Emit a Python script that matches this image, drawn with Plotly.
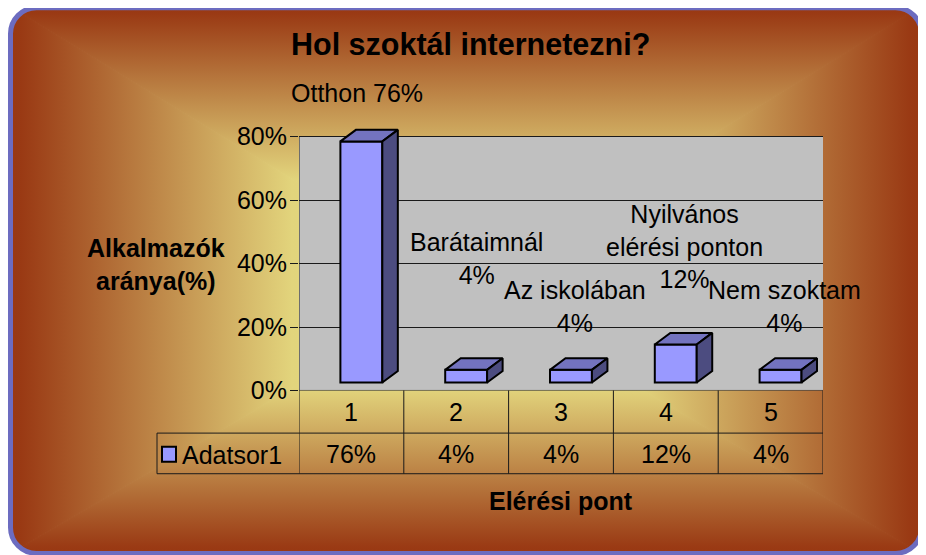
import base64
import plotly.graph_objects as go

# ---------------- data ----------------
CATEGORIES = [1, 2, 3, 4, 5]
VALUES = [0.76, 0.04, 0.04, 0.12, 0.04]
LABEL_NAMES = ["Otthon", "Barátaimnál", "Az iskolában", "Nyilvános<br>elérési ponton", "Nem szoktam"]
LABEL_SEPS = [" ", "<br>", "<br>", "<br>", "<br>"]
SERIES_NAME = "Adatsor1"
Y_TICKS = [0, 0.2, 0.4, 0.6, 0.8]
Y_TICK_TEXT = ["0%", "20%", "40%", "60%", "80%"]
TITLE = "Hol szoktál internetezni?"
Y_TITLE = "Alkalmazók<br>aránya(%)"
X_TITLE = "Elérési pont"

# ---------------- layout constants ----------------
OX, OY = 8, 8             # page body margin offset of the figure
W, H = 918, 563           # figure size
SY = 571 / 555            # picture-to-page vertical factor
FONT = "Liberation Sans, Arial, sans-serif"
FRONT, TOP, SIDE = "#9999FF", "#7373BF", "#4C4C80"
Y0_PIX, PIX_PER_UNIT, Y_MAX = 389, 316.25, 0.85


def px(x):
    return (x - OX) / W


def py(y):
    return 1 - (y * SY - OY) / H


def ay(v):
    """axis value -> paper y"""
    return py(Y0_PIX - v * PIX_PER_UNIT)


X_DOMAIN = [px(299), px(823)]
Y_DOMAIN = [ay(0), ay(Y_MAX)]

# 3D bar geometry (axis units)
BASE = 0.025
BAR_OFF = -0.105
BAR_W = 0.4
DX = 0.148
DY = 0.0364

# label anchor positions (axis units)
LABEL_X = [1.053, 2.198, 3.138, 4.183, 5.137]
LABEL_Y = [0.939, 0.417, 0.266, 0.455, 0.266]

# ---------------- background (rectangular "from center" gradient) ----------------
cx, cy = 466, 285
L, T, R, B = 8, 5, 923, 553
stops = [(0, "#E8DA80"), (0.38, "#E2D47C"), (0.97, "#9A3A14"), (1, "#983812")]


def grad(gid, x2, y2):
    s = "".join(f'<stop offset="{o}" stop-color="{c}"/>' for o, c in stops)
    return (f'<linearGradient id="{gid}" gradientUnits="userSpaceOnUse" '
            f'x1="{cx}" y1="{cy}" x2="{x2}" y2="{y2}">{s}</linearGradient>')


BR = dict(x=10.5, y=7.5, w=911, h=544, r=26)
svg = (
    f'<svg xmlns="http://www.w3.org/2000/svg" width="{W}" height="{H}" viewBox="0 0 {W} {H}">'
    '<defs>'
    + grad("gt", cx, T) + grad("gb", cx, B) + grad("gl", L, cy) + grad("gr", R, cy) +
    f'<clipPath id="c"><rect x="{BR["x"]}" y="{BR["y"]}" width="{BR["w"]}" height="{BR["h"]}" '
    f'rx="{BR["r"]}" ry="{BR["r"]}"/></clipPath>'
    '</defs>'
    f'<g transform="translate({-OX},{-OY}) scale(1,{SY:.5f})">'
    '<g clip-path="url(#c)">'
    f'<polygon points="{L},{T} {R},{T} {cx},{cy}" fill="url(#gt)" stroke="url(#gt)" stroke-width="1"/>'
    f'<polygon points="{L},{B} {R},{B} {cx},{cy}" fill="url(#gb)" stroke="url(#gb)" stroke-width="1"/>'
    f'<polygon points="{L},{T} {L},{B} {cx},{cy}" fill="url(#gl)" stroke="url(#gl)" stroke-width="1"/>'
    f'<polygon points="{R},{T} {R},{B} {cx},{cy}" fill="url(#gr)" stroke="url(#gr)" stroke-width="1"/>'
    '</g>'
    f'<rect x="{BR["x"]}" y="{BR["y"]}" width="{BR["w"]}" height="{BR["h"]}" rx="{BR["r"]}" ry="{BR["r"]}" '
    'fill="none" stroke="#6C6CC0" stroke-width="5"/>'
    '</g>'
    '</svg>'
)
bg_src = "data:image/svg+xml;base64," + base64.b64encode(svg.encode("utf-8")).decode("ascii")

# ---------------- traces ----------------
fig = go.Figure()

tx, ty, sx, sy = [], [], [], []
for c, v in zip(CATEGORIES, VALUES):
    x0 = c + BAR_OFF
    x1 = x0 + BAR_W
    top = BASE + v
    tx += [x0, x1, x1 + DX, x0 + DX, x0, None]
    ty += [top, top, top + DY, top + DY, top, None]
    sx += [x1, x1, x1 + DX, x1 + DX, x1, None]
    sy += [BASE, top, top + DY, BASE + DY, BASE, None]

fig.add_trace(go.Scatter(x=tx, y=ty, mode="lines", fill="toself", fillcolor=TOP,
                         line=dict(color="black", width=2), hoverinfo="skip", showlegend=False))
fig.add_trace(go.Scatter(x=sx, y=sy, mode="lines", fill="toself", fillcolor=SIDE,
                         line=dict(color="black", width=2), hoverinfo="skip", showlegend=False))
fig.add_trace(go.Bar(x=CATEGORIES, y=VALUES, base=BASE, width=BAR_W, offset=BAR_OFF,
                     marker=dict(color=FRONT, line=dict(color="black", width=2)),
                     name=SERIES_NAME, showlegend=False))

# ---------------- shapes ----------------
LINE = dict(color="#1a1a1a", width=1)
ROW_TOP, ROW_MID, ROW_BOT = py(389), py(431.5), py(472)
TABLE_LEFT = px(157)

shapes = [
    dict(type="rect", xref="x", yref="y", x0=0.5, x1=5.5, y0=0, y1=0.8,
         fillcolor="#C0C0C0", line=dict(width=0), layer="below"),
    dict(type="line", xref="x", yref="y", x0=0.5, x1=0.5, y0=0, y1=0.8, line=LINE),
    dict(type="line", xref="x", yref="y", x0=0.5, x1=5.5, y0=0, y1=0, line=LINE),
    dict(type="line", xref="paper", yref="paper", x0=TABLE_LEFT, x1=X_DOMAIN[1], y0=ROW_MID, y1=ROW_MID, line=LINE),
    dict(type="line", xref="paper", yref="paper", x0=TABLE_LEFT, x1=X_DOMAIN[1], y0=ROW_BOT, y1=ROW_BOT, line=LINE),
    dict(type="line", xref="paper", yref="paper", x0=TABLE_LEFT, x1=TABLE_LEFT, y0=ROW_BOT, y1=ROW_MID, line=LINE),
    dict(type="rect", xref="paper", yref="paper", x0=px(162), x1=px(176), y0=py(460), y1=py(445),
         fillcolor=FRONT, line=dict(color="black", width=2)),
]
for k in range(len(CATEGORIES) + 1):
    xb = 0.5 + k
    shapes.append(dict(type="line", xref="x", yref="paper", x0=xb, x1=xb, y0=ROW_BOT, y1=ROW_TOP, line=LINE))

# ---------------- annotations ----------------
TXT = dict(family=FONT, size=25, color="black")
ann = [
    dict(text=f"<b>{TITLE}</b>", x=px(471), y=py(44), xref="paper", yref="paper",
         showarrow=False, font=dict(family=FONT, size=30.5, color="black"), xanchor="center", yanchor="middle"),
    dict(text=f"<b>{Y_TITLE}</b>", x=px(155.5), y=py(263), xref="paper", yref="paper",
         showarrow=False, font=TXT, xanchor="center", yanchor="middle"),
    dict(text=f"<b>{X_TITLE}</b>", x=px(560.5), y=py(499), xref="paper", yref="paper",
         showarrow=False, font=TXT, xanchor="center", yanchor="middle"),
    dict(text=SERIES_NAME, x=px(180), y=py(453), xref="paper", yref="paper",
         showarrow=False, font=TXT, xanchor="left", yanchor="middle"),
]
for c, v, name, sep, lx, ly in zip(CATEGORIES, VALUES, LABEL_NAMES, LABEL_SEPS, LABEL_X, LABEL_Y):
    pct = f"{round(v * 100)}%"
    ann.append(dict(text=f"{name}{sep}{pct}", x=lx, y=ay(ly), xref="x", yref="paper", showarrow=False,
                    font=TXT, xanchor="center", yanchor="middle", align="center"))
    ann.append(dict(text=str(c), x=c, y=py(410), xref="x", yref="paper", showarrow=False,
                    font=TXT, xanchor="center", yanchor="middle"))
    ann.append(dict(text=pct, x=c, y=py(452), xref="x", yref="paper", showarrow=False,
                    font=TXT, xanchor="center", yanchor="middle"))

fig.update_layout(
    width=W, height=H, autosize=False,
    margin=dict(l=0, r=0, t=0, b=0),
    paper_bgcolor="white", plot_bgcolor="rgba(0,0,0,0)",
    showlegend=False,
    font=dict(family=FONT, color="black"),
    images=[dict(source=bg_src, xref="paper", yref="paper", x=0, y=1, sizex=1, sizey=1,
                 xanchor="left", yanchor="top", sizing="stretch", layer="below")],
    xaxis=dict(domain=X_DOMAIN, range=[0.5, 5.5], showgrid=False, zeroline=False,
               showticklabels=False, ticks="", showline=False, fixedrange=True),
    yaxis=dict(domain=Y_DOMAIN, range=[0, Y_MAX], tickvals=Y_TICKS, ticktext=Y_TICK_TEXT,
               showgrid=True, gridcolor="#1a1a1a", gridwidth=1, zeroline=False,
               ticks="outside", ticklen=8, tickcolor="#1a1a1a", tickwidth=1, ticklabelstandoff=-2,
               tickfont=dict(family=FONT, size=25, color="black"), showline=False, fixedrange=True),
    shapes=shapes,
    annotations=ann,
)

fig.write_html("out.html")
